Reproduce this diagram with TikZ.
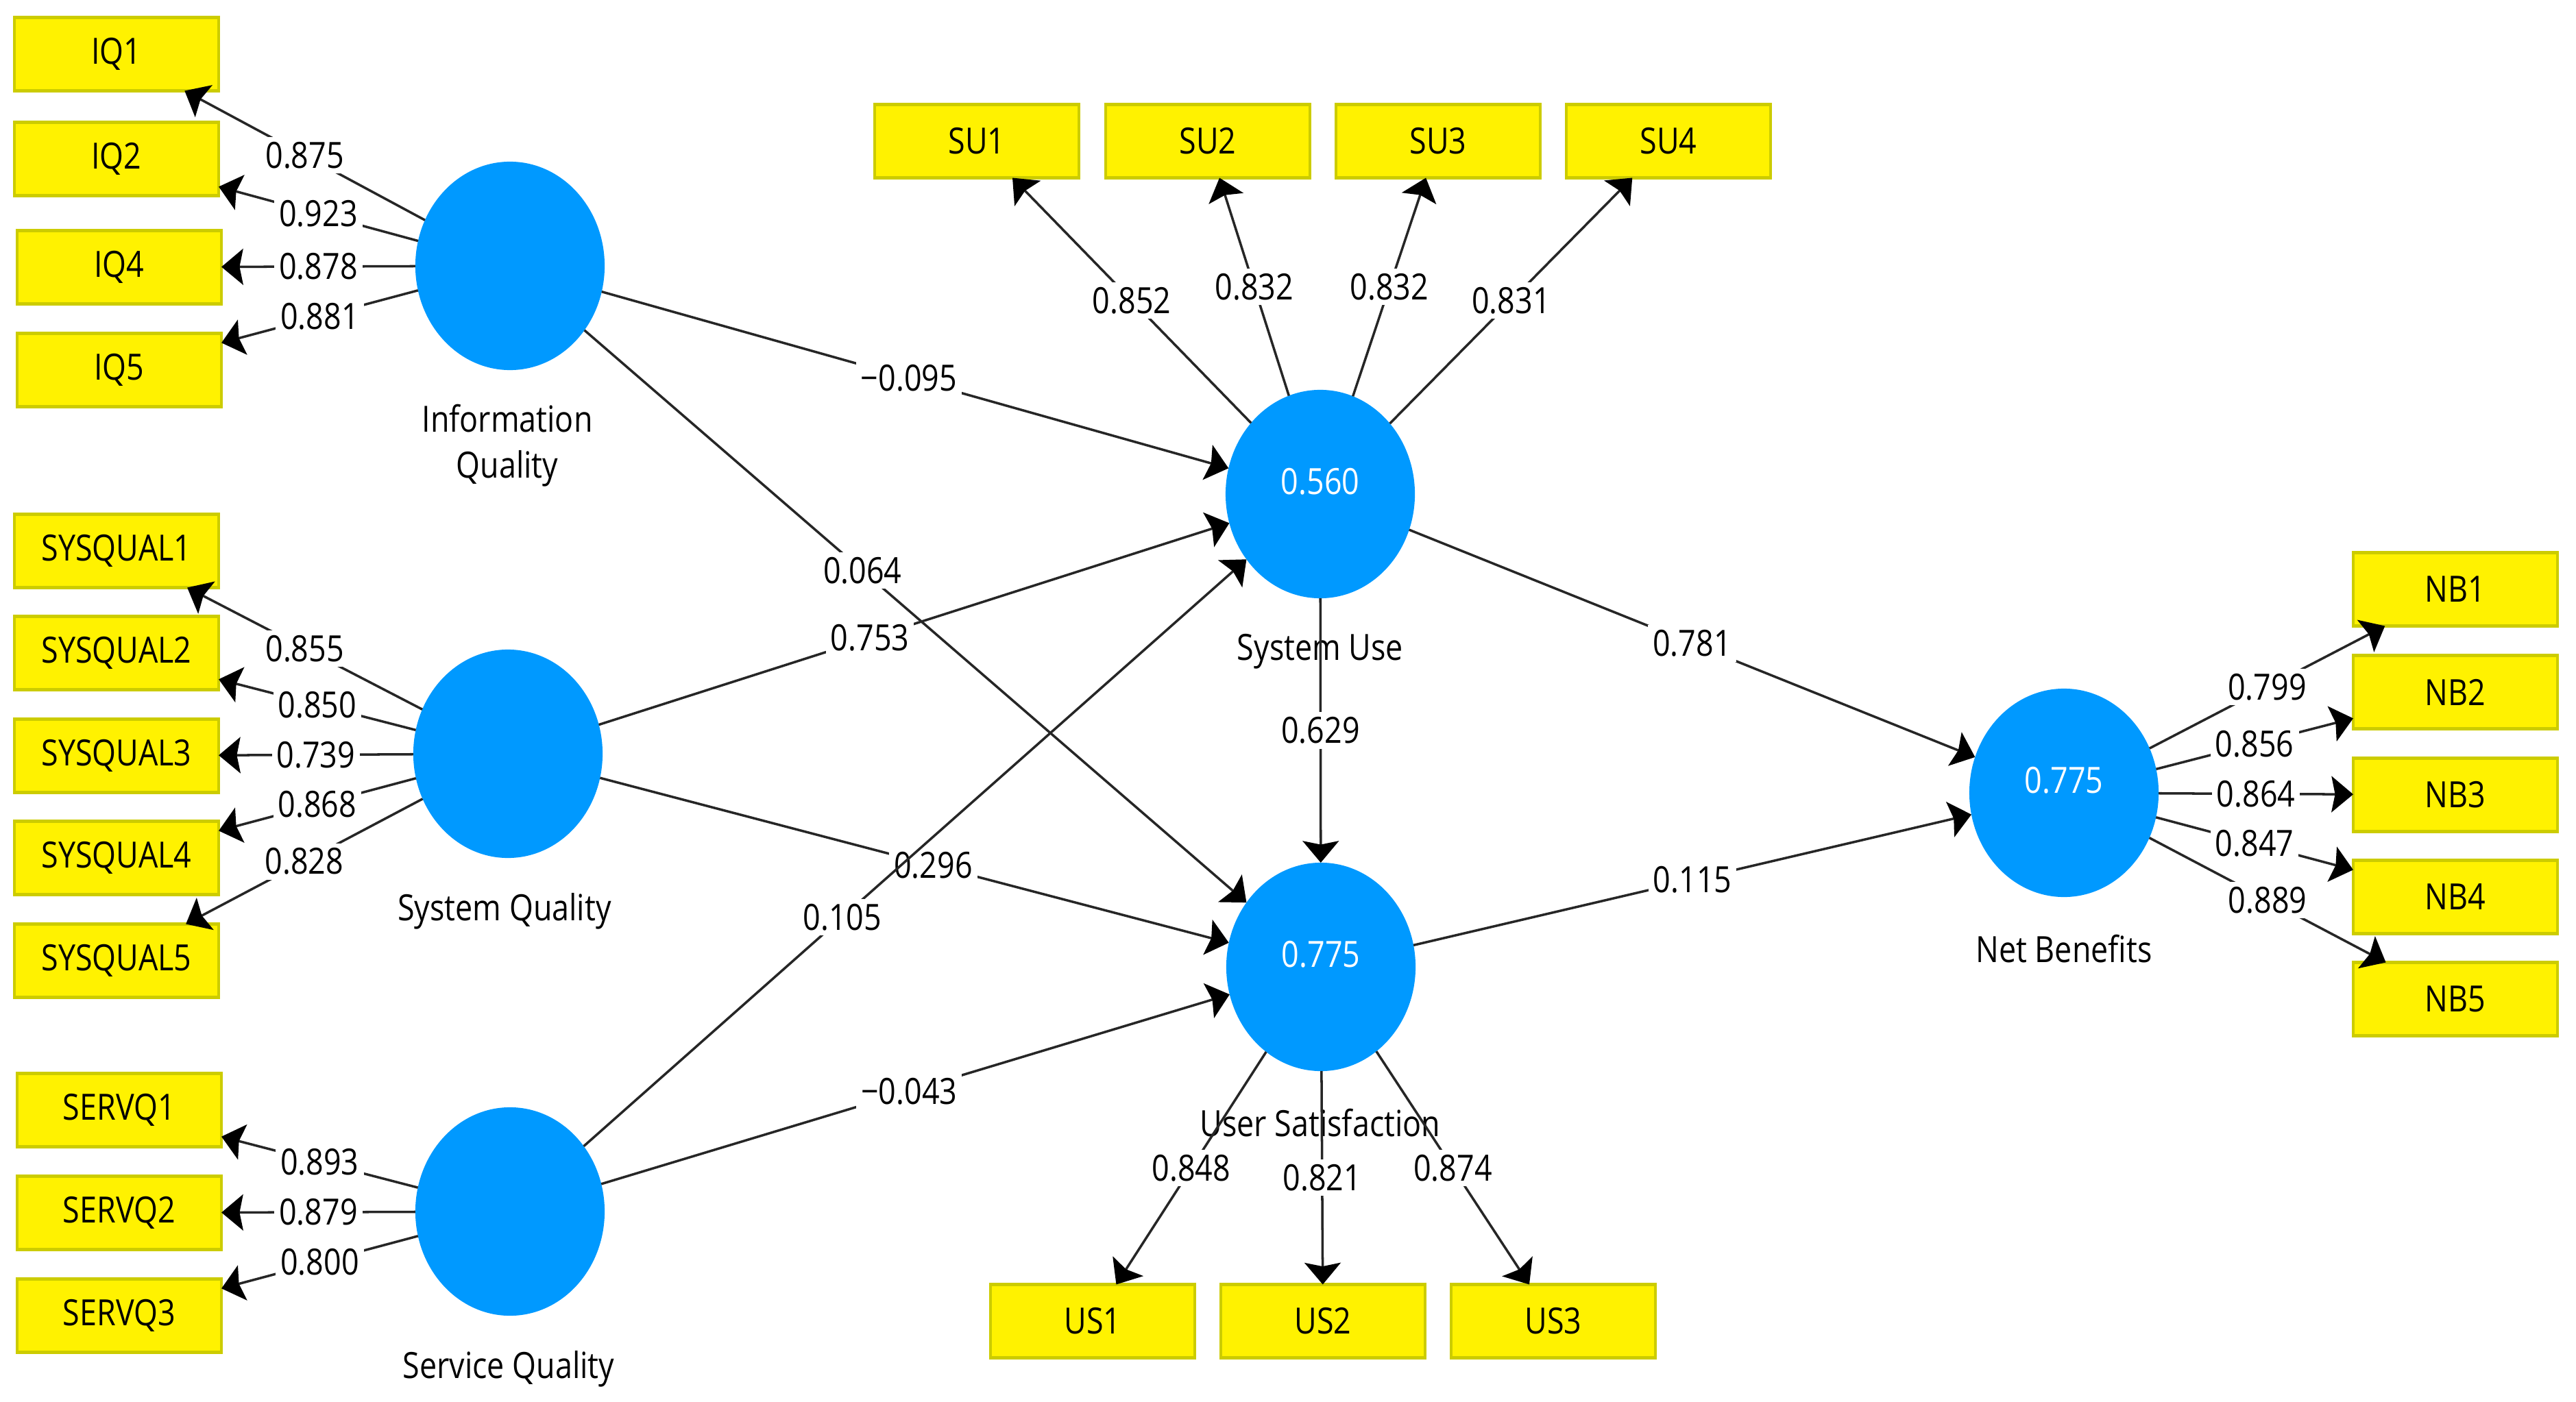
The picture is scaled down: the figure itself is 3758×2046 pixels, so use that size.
\documentclass[tikz,border=0pt]{standalone}
\usepackage{fontspec}
\setmainfont{Open Sans}[FakeStretch=0.85]
\usetikzlibrary{arrows.meta,shapes.geometric}
\definecolor{lvblue}{RGB}{0,153,255}
\definecolor{indline}{RGB}{204,204,0}

\begin{document}
\begin{tikzpicture}[x=0.01cm,y=-0.01cm,>={Stealth[length=9pt,width=15pt,inset=1.5pt,color=black]},
  font=\fontsize{15}{19}\selectfont,
  ind/.style={draw=indline,fill=yellow,line width=1.2pt,minimum width=2.98cm,minimum height=1.07cm,inner sep=0pt,outer sep=0pt},
  lv/.style={ellipse,fill=lvblue,minimum width=2.76cm,minimum height=3.04cm,inner sep=0pt,outer sep=0pt},
  lvval/.style={text=white,yshift=0.18cm},
  lvname/.style={align=center,inner sep=0pt},
  ld/.style={fill=white,inner sep=2pt},
  conn/.style={->,line width=1pt,draw=black!85}]
\useasboundingbox (0,0) rectangle (3758,2046);

% latent variables
\node[lv] (iq) at (744,388) {};
\node[lv] (sq) at (741,1100) {};
\node[lv] (svq) at (744,1768) {};
\node[lv,label={[lvval]center:0.560}] (su) at (1926,721) {};
\node[lv,label={[lvval]center:0.775}] (us) at (1927,1411) {};
\node[lv,label={[lvval]center:0.775}] (nb) at (3011,1157) {};
\node[lvname] (iqname) at (740,650) {Information\\Quality};
\node[lvname] (sqname) at (736,1330) {System Quality};
\node[lvname] (svqname) at (742,1998) {Service Quality};
\node[lvname] (suname) at (1926,951) {System Use};
\node[lvname] (usname) at (1926,1639) {User Satisfaction};
\node[lvname] (nbname) at (3011,1385) {Net Benefits};

% indicators
\node[ind] (iq1) at (170,79) {IQ1};
\node[ind] (iq2) at (170,232) {IQ2};
\node[ind] (iq4) at (174,390) {IQ4};
\node[ind] (iq5) at (174,540) {IQ5};
\node[ind] (sq1) at (170,804) {SYSQUAL1};
\node[ind] (sq2) at (170,953) {SYSQUAL2};
\node[ind] (sq3) at (170,1103) {SYSQUAL3};
\node[ind] (sq4) at (170,1252) {SYSQUAL4};
\node[ind] (sq5) at (170,1402) {SYSQUAL5};
\node[ind] (svq1) at (174,1620) {SERVQ1};
\node[ind] (svq2) at (174,1770) {SERVQ2};
\node[ind] (svq3) at (174,1920) {SERVQ3};
\node[ind] (su1) at (1425,206) {SU1};
\node[ind] (su2) at (1762,206) {SU2};
\node[ind] (su3) at (2098,206) {SU3};
\node[ind] (su4) at (2434,206) {SU4};
\node[ind] (us1) at (1594,1928) {US1};
\node[ind] (us2) at (1930,1928) {US2};
\node[ind] (us3) at (2266,1928) {US3};
\node[ind] (nb1) at (3582,860) {NB1};
\node[ind] (nb2) at (3582,1010) {NB2};
\node[ind] (nb3) at (3582,1160) {NB3};
\node[ind] (nb4) at (3582,1309) {NB4};
\node[ind] (nb5) at (3582,1458) {NB5};

% loadings
\draw[conn] (iq) -- node[ld] (l-iq1) {0.875} (iq1);
\draw[conn] (iq) -- node[ld] (l-iq2) {0.923} (iq2);
\draw[conn] (iq) -- node[ld] (l-iq4) {0.878} (iq4);
\draw[conn] (iq) -- node[ld] (l-iq5) {0.881} (iq5);
\draw[conn] (sq) -- node[ld] (l-sq1) {0.855} (sq1);
\draw[conn] (sq) -- node[ld] (l-sq2) {0.850} (sq2);
\draw[conn] (sq) -- node[ld] (l-sq3) {0.739} (sq3);
\draw[conn] (sq) -- node[ld] (l-sq4) {0.868} (sq4);
\draw[conn] (sq) -- node[ld] (l-sq5) {0.828} (sq5);
\draw[conn] (svq) -- node[ld] (l-svq1) {0.893} (svq1);
\draw[conn] (svq) -- node[ld] (l-svq2) {0.879} (svq2);
\draw[conn] (svq) -- node[ld] (l-svq3) {0.800} (svq3);
\draw[conn] (su) -- node[ld] (l-su1) {0.852} (su1);
\draw[conn] (su) -- node[ld] (l-su2) {0.832} (su2);
\draw[conn] (su) -- node[ld] (l-su3) {0.832} (su3);
\draw[conn] (su) -- node[ld] (l-su4) {0.831} (su4);
\draw[conn] (us) -- node[ld] (l-us1) {0.848} (us1);
\draw[conn] (us) -- node[ld] (l-us2) {0.821} (us2);
\draw[conn] (us) -- node[ld] (l-us3) {0.874} (us3);
\draw[conn] (nb) -- node[ld] (l-nb1) {0.799} (nb1);
\draw[conn] (nb) -- node[ld] (l-nb2) {0.856} (nb2);
\draw[conn] (nb) -- node[ld] (l-nb3) {0.864} (nb3);
\draw[conn] (nb) -- node[ld] (l-nb4) {0.847} (nb4);
\draw[conn] (nb) -- node[ld] (l-nb5) {0.889} (nb5);

% structural paths
\draw[conn] (iq) -- node[ld,pos=0.49] (p-iqsu) {−0.095} (su);
\draw[conn] (iq) -- node[ld,pos=0.42] (p-iqus) {0.064} (us);
\draw[conn] (sq) -- node[ld,pos=0.43] (p-sqsu) {0.753} (su);
\draw[conn] (sq) -- node[ld,pos=0.53] (p-squs) {0.296} (us);
\draw[conn] (svq) -- node[ld,pos=0.39] (p-svqsu) {0.105} (su);
\draw[conn] (svq) -- node[ld,pos=0.49] (p-svqus) {−0.043} (us);
\draw[conn] (su) -- node[ld] (p-suus) {0.629} (us);
\draw[conn] (su) -- node[ld] (p-sunb) {0.781} (nb);
\draw[conn] (us) -- node[ld] (p-usnb) {0.115} (nb);
\end{tikzpicture}
\end{document}
